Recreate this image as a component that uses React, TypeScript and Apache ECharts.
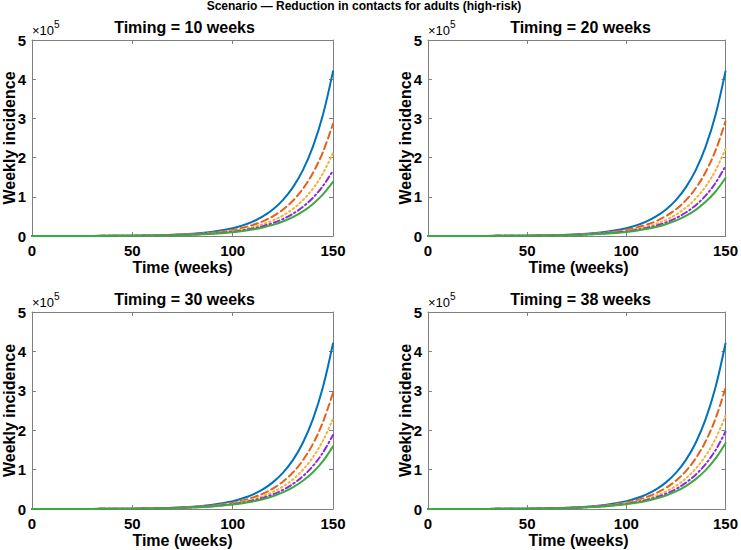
import React, { useEffect, useRef } from "react";
import * as echarts from "echarts";

// Time grid (weeks) and weekly incidence in units of 10^5
const weeks = [0, 10, 20, 30, 40, 50, 60, 70, 80, 90, 100, 105, 110, 115, 120, 125, 130, 135, 140, 145, 150];

// No-intervention baseline (same in every panel)
const baseline = [0.0005, 0.0008, 0.0015, 0.0028, 0.0052, 0.0095, 0.0175, 0.032, 0.059, 0.109, 0.2, 0.271, 0.367, 0.498, 0.676, 0.916, 1.24, 1.681, 2.28, 3.095, 4.2];

// Timing = 10 weeks
const orange10 = [0.0005, 0.0008, 0.0015, 0.0027, 0.0048, 0.0085, 0.0153, 0.0273, 0.0489, 0.0875, 0.157, 0.2097, 0.28, 0.3749, 0.502, 0.6718, 0.899, 1.2027, 1.609, 2.145, 2.86];
const yellow10 = [0.0005, 0.0008, 0.0015, 0.0025, 0.0045, 0.0078, 0.0137, 0.024, 0.042, 0.0735, 0.129, 0.1704, 0.225, 0.2981, 0.395, 0.5224, 0.691, 0.9148, 1.211, 1.602, 2.12];
const purple10 = [0.0005, 0.0008, 0.0014, 0.0025, 0.0042, 0.0073, 0.0126, 0.0217, 0.0373, 0.0643, 0.111, 0.1456, 0.191, 0.2507, 0.329, 0.4315, 0.566, 0.7429, 0.975, 1.276, 1.67];
const green10 = [0.0005, 0.0008, 0.0014, 0.0024, 0.0041, 0.0069, 0.0118, 0.02, 0.034, 0.0578, 0.098, 0.1279, 0.167, 0.2174, 0.283, 0.369, 0.481, 0.6273, 0.818, 1.0625, 1.38];

// Timing = 20 weeks
const orange20 = [0.0005, 0.0008, 0.0015, 0.0027, 0.0048, 0.0086, 0.0154, 0.0276, 0.0494, 0.0885, 0.159, 0.2125, 0.284, 0.3798, 0.508, 0.6799, 0.91, 1.2183, 1.631, 2.182, 2.92];
const yellow20 = [0.0005, 0.0008, 0.0015, 0.0026, 0.0046, 0.0081, 0.0142, 0.0249, 0.0436, 0.0764, 0.134, 0.1775, 0.235, 0.3112, 0.412, 0.5454, 0.722, 0.9561, 1.266, 1.6765, 2.22];
const purple20 = [0.0005, 0.0008, 0.0015, 0.0026, 0.0045, 0.0077, 0.0133, 0.0228, 0.0394, 0.0679, 0.117, 0.1537, 0.202, 0.2648, 0.347, 0.4559, 0.599, 0.7862, 1.032, 1.3554, 1.78];
const green20 = [0.0005, 0.0008, 0.0015, 0.0025, 0.0043, 0.0074, 0.0125, 0.0213, 0.0361, 0.0614, 0.104, 0.1357, 0.177, 0.2308, 0.301, 0.3926, 0.512, 0.6678, 0.871, 1.1354, 1.48];

// Timing = 30 weeks
const orange30 = [0.0005, 0.0008, 0.0015, 0.0028, 0.005, 0.0089, 0.016, 0.0285, 0.0509, 0.0909, 0.162, 0.2167, 0.29, 0.3876, 0.518, 0.6922, 0.925, 1.2362, 1.652, 2.2076, 2.95];
const yellow30 = [0.0005, 0.0008, 0.0015, 0.0028, 0.0049, 0.0086, 0.015, 0.0262, 0.0459, 0.0803, 0.14, 0.1856, 0.246, 0.3252, 0.43, 0.5686, 0.752, 0.9944, 1.315, 1.7353, 2.29];
const purple30 = [0.0005, 0.0008, 0.0015, 0.0028, 0.0048, 0.0083, 0.0142, 0.0245, 0.0422, 0.0725, 0.125, 0.1639, 0.215, 0.2817, 0.369, 0.4841, 0.635, 0.8331, 1.093, 1.4335, 1.88];
const green30 = [0.0005, 0.0008, 0.0015, 0.0028, 0.0047, 0.0081, 0.0137, 0.0231, 0.0392, 0.0665, 0.113, 0.1469, 0.191, 0.2488, 0.324, 0.4221, 0.55, 0.716, 0.932, 1.2173, 1.59];

// Timing = 38 weeks
const orange38 = [0.0005, 0.0008, 0.0015, 0.0028, 0.0052, 0.0093, 0.0165, 0.0296, 0.0528, 0.0944, 0.169, 0.2255, 0.301, 0.4024, 0.538, 0.7194, 0.962, 1.2856, 1.718, 2.2966, 3.07];
const yellow38 = [0.0005, 0.0008, 0.0015, 0.0028, 0.0051, 0.009, 0.0157, 0.0274, 0.0478, 0.0834, 0.146, 0.1926, 0.254, 0.3358, 0.444, 0.5866, 0.775, 1.0236, 1.352, 1.7863, 2.36];
const purple38 = [0.0005, 0.0008, 0.0015, 0.0028, 0.005, 0.0088, 0.0151, 0.026, 0.0446, 0.0765, 0.131, 0.1717, 0.225, 0.2951, 0.387, 0.5073, 0.665, 0.8711, 1.141, 1.4955, 1.96];
const green38 = [0.0005, 0.0008, 0.0015, 0.0028, 0.005, 0.0087, 0.0146, 0.0248, 0.0419, 0.071, 0.12, 0.1561, 0.203, 0.2643, 0.344, 0.4478, 0.583, 0.7586, 0.987, 1.2839, 1.67];

const panelTitles = ["Timing = 10 weeks", "Timing = 20 weeks", "Timing = 30 weeks", "Timing = 38 weeks"];
const panelSeries = [
  [baseline, orange10, yellow10, purple10, green10],
  [baseline, orange20, yellow20, purple20, green20],
  [baseline, orange30, yellow30, purple30, green30],
  [baseline, orange38, yellow38, purple38, green38],
];

const xTicks = { min: 0, max: 150, interval: 50 };
const yTicks = { min: 0, max: 5, interval: 1 };

const FONT = "'Liberation Sans', Arial, Helvetica, sans-serif";
const AXIS_GRAY = "#7f7f7f";

const lineLooks = [
  { color: "#0072BD", type: "solid" as any },
  { color: "#E6601A", type: [7, 4] as any },
  { color: "#F5B13D", type: [1.5, 3] as any },
  { color: "#8A2BE2", type: [6, 3, 1.5, 3] as any },
  { color: "#3DAA3D", type: "solid" as any },
];

// Plot boxes in pixels
const boxes = [
  { left: 32, top: 40, width: 301, height: 196 },
  { left: 428, top: 40, width: 301, height: 196 },
  { left: 32, top: 312, width: 301, height: 197 },
  { left: 428, top: 312, width: 301, height: 197 },
];

export default function App() {
  const ref = useRef<HTMLDivElement>(null);

  useEffect(() => {
    if (!ref.current) return;
    const chart = echarts.init(ref.current, undefined, { renderer: "svg" });

    const grids: any[] = [];
    const xAxes: any[] = [];
    const yAxes: any[] = [];
    const series: any[] = [];
    const graphics: any[] = [];

    const tickLabel = {
      color: "#000",
      fontWeight: "bold",
      fontSize: 15,
      fontFamily: FONT,
    };

    boxes.forEach((b, i) => {
      grids.push({ left: b.left, top: b.top, width: b.width, height: b.height, containLabel: false });
      const common = {
        gridIndex: i,
        type: "value",
        splitLine: { show: false },
        axisLine: { show: true, onZero: false, lineStyle: { color: AXIS_GRAY, width: 1 } },
        axisTick: { show: true, inside: true, length: 4, lineStyle: { color: AXIS_GRAY, width: 1 } },
      };
      xAxes.push({ ...common, ...xTicks, position: "bottom", axisLabel: { ...tickLabel, margin: 7 } });
      xAxes.push({ ...common, ...xTicks, position: "top", axisLabel: { show: false } });
      yAxes.push({ ...common, ...yTicks, position: "left", axisLabel: { ...tickLabel, margin: 6 } });
      yAxes.push({ ...common, ...yTicks, position: "right", axisLabel: { show: false } });

      panelSeries[i].forEach((vals, k) => {
        series.push({
          type: "line",
          xAxisIndex: 2 * i,
          yAxisIndex: 2 * i,
          data: weeks.map((w, j) => [w, vals[j]]),
          showSymbol: false,
          symbol: "none",
          smooth: 0.35,
          lineStyle: { color: lineLooks[k].color, width: 2, type: lineLooks[k].type, cap: "round" },
          z: 2 + k,
        });
      });

      const cx = b.left + b.width / 2;
      // subplot title
      graphics.push({
        type: "text",
        x: cx + 2,
        y: b.top - 13,
        style: { text: panelTitles[i], font: `bold 16px ${FONT}`, fill: "#000", textAlign: "center", textVerticalAlign: "middle" },
      });
      // exponent marker
      graphics.push({
        type: "text",
        x: b.left,
        y: b.top - 10,
        style: { text: "×10", font: `13px ${FONT}`, fill: "#000", textAlign: "left", textVerticalAlign: "middle" },
      });
      graphics.push({
        type: "text",
        x: b.left + 22,
        y: b.top - 16,
        style: { text: "5", font: `10px ${FONT}`, fill: "#000", textAlign: "left", textVerticalAlign: "middle" },
      });
      // axis names
      graphics.push({
        type: "text",
        x: b.left - 23,
        y: b.top + b.height / 2,
        rotation: Math.PI / 2,
        style: { text: "Weekly incidence", font: `bold 16px ${FONT}`, fill: "#000", textAlign: "center", textVerticalAlign: "middle" },
      });
      graphics.push({
        type: "text",
        x: cx,
        y: b.top + b.height + 31,
        style: { text: "Time (weeks)", font: `bold 16px ${FONT}`, fill: "#000", textAlign: "center", textVerticalAlign: "middle" },
      });
    });

    graphics.push({
      type: "text",
      x: 364,
      y: 6,
      style: {
        text: "Scenario — Reduction in contacts for adults (high-risk)",
        font: `bold 12px ${FONT}`,
        fill: "#000",
        textAlign: "center",
        textVerticalAlign: "middle",
      },
    });

    chart.setOption({
      animation: false,
      backgroundColor: "#ffffff",
      grid: grids,
      xAxis: xAxes,
      yAxis: yAxes,
      series,
      graphic: graphics,
    });

    return () => chart.dispose();
  }, []);

  return (
    <div
      ref={ref}
      style={{ position: "absolute", left: 0, top: 0, width: 741, height: 550 }}
    />
  );
}
